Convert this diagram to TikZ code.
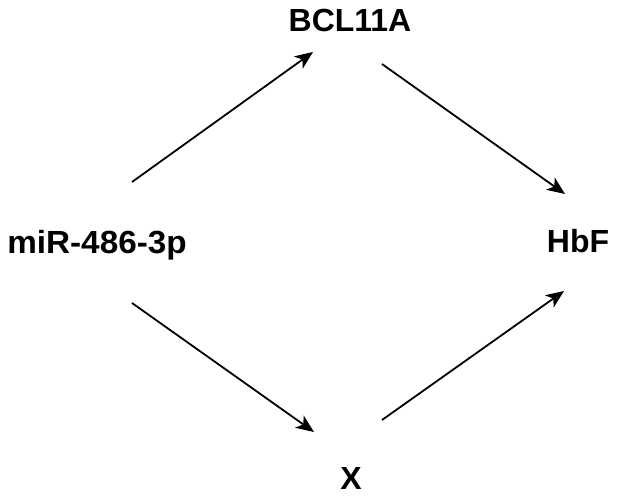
\documentclass[tikz,border=0pt]{standalone}
\usepackage{fontspec}
\setmainfont{Liberation Sans}
\usetikzlibrary{arrows.meta}
\begin{document}
\begin{tikzpicture}[x=1pt,y=-1pt,
  lbl/.style={inner sep=0pt, anchor=base, font=\fontsize{32}{36}\selectfont\bfseries},
  arr/.style={line width=1.8pt, -{Stealth[length=18pt,width=15pt,inset=5pt]}}]
\useasboundingbox (0,0) rectangle (622,498);
\node[lbl] (bcl) at (350,31.7) {BCL11A};
\node[lbl] (mir) at (97,253) {\scalebox{1.04}[1]{miR-486-3p}};
\node[lbl] (hbf) at (578,252.7) {HbF};
\node[lbl] (x) at (351,489) {X};
\coordinate (a1s) at (132,182); \coordinate (a1e) at (313,52);
\coordinate (a2s) at (382,64);  \coordinate (a2e) at (565,194);
\coordinate (a3s) at (132,303); \coordinate (a3e) at (314,432);
\coordinate (a4s) at (382,420); \coordinate (a4e) at (564,291);
\draw[arr] (a1s) -- (a1e);
\draw[arr] (a2s) -- (a2e);
\draw[arr] (a3s) -- (a3e);
\draw[arr] (a4s) -- (a4e);
\end{tikzpicture}
\end{document}
